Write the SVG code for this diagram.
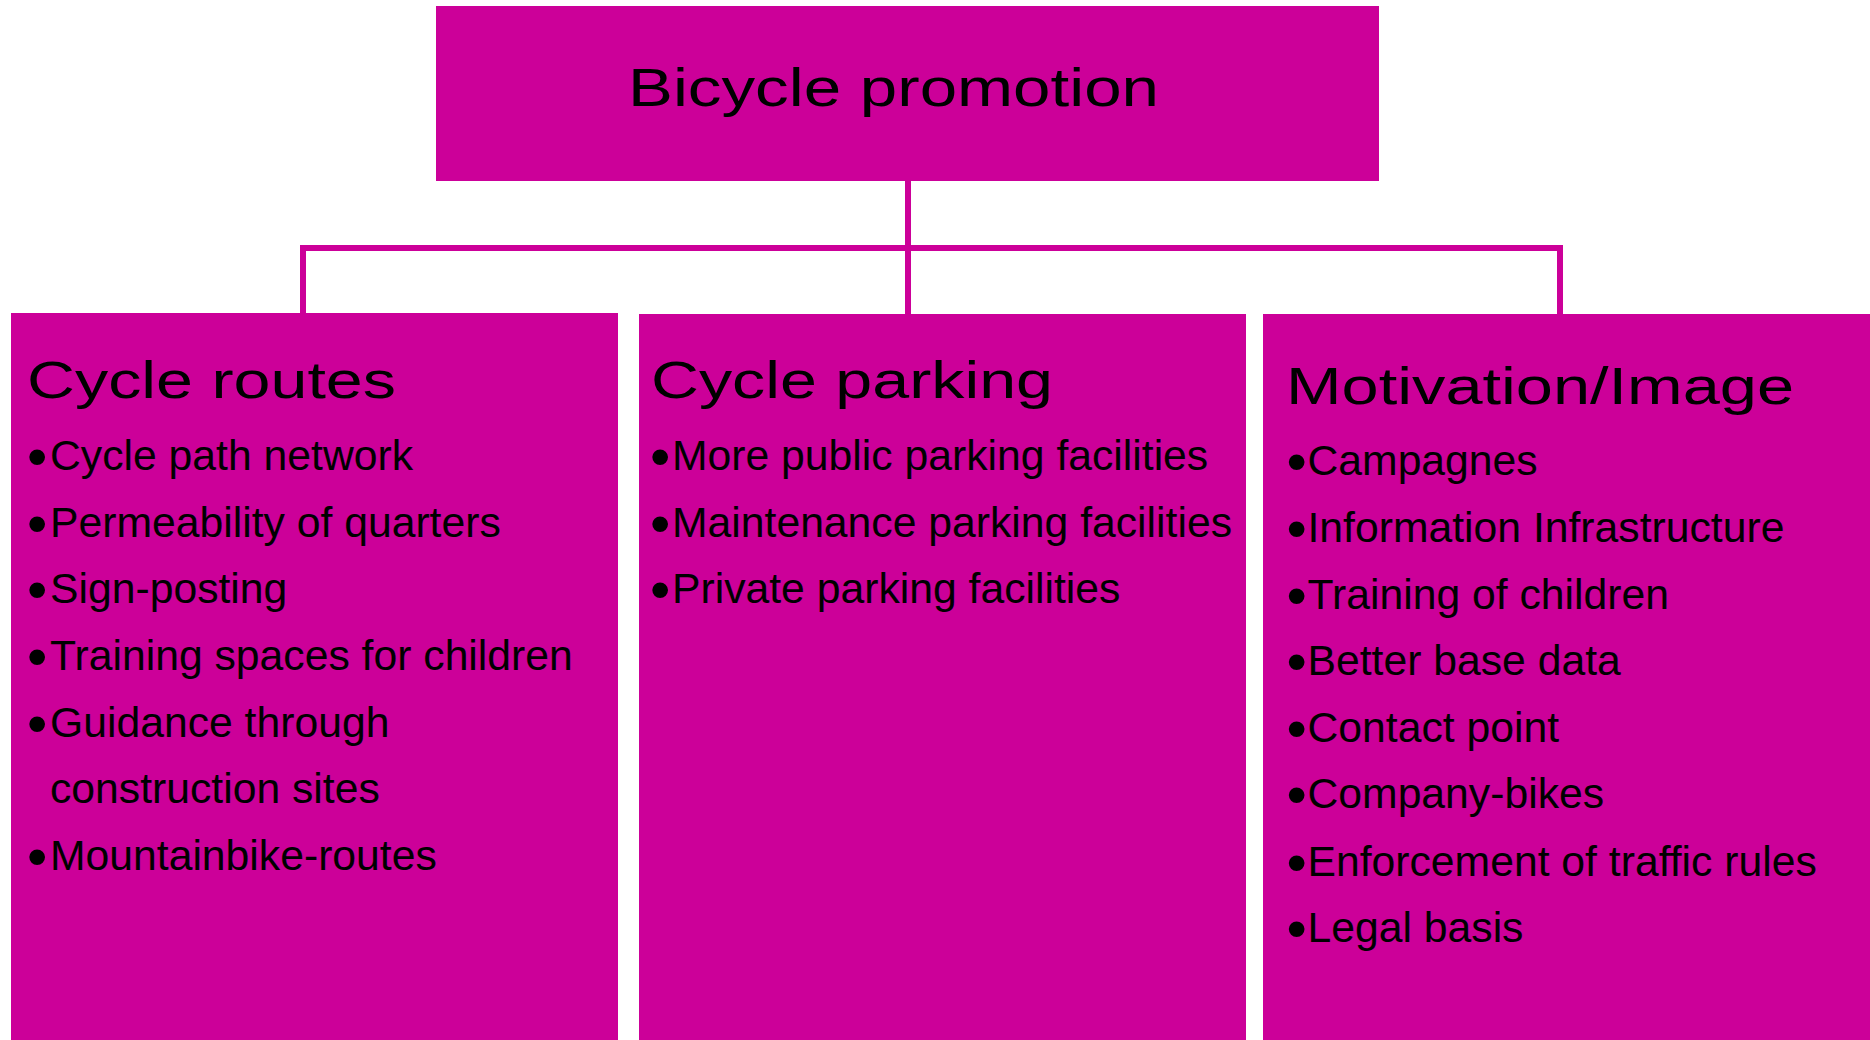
<svg xmlns="http://www.w3.org/2000/svg" width="1870" height="1040" viewBox="0 0 1870 1040">
<style>
.box{fill:#CC0099}
.conn{stroke:#CC0099;stroke-width:6;fill:none}
.title{font-family:"Liberation Sans",Arial,sans-serif;font-size:53px;fill:#000}
.head{font-family:"Liberation Sans",Arial,sans-serif;font-size:52px;fill:#000}
.item{font-family:"Liberation Sans",Arial,sans-serif;font-size:42.7px;fill:#000}
.bul{font-size:58px}
</style>
<rect width="1870" height="1040" fill="#fff"/>
<g id="connectors">
<path class="conn" d="M908,180 V314"/>
<path class="conn" d="M303,313 V248 H1560 V314"/>
</g>
<g id="node-bicycle-promotion">
<rect class="box" x="436" y="6" width="943" height="175"/>
<text class="title" x="628" y="106" textLength="531" lengthAdjust="spacingAndGlyphs">Bicycle promotion</text>
</g>
<g id="node-cycle-routes">
<rect class="box" x="11" y="313" width="607" height="727"/>
<text class="head" x="27" y="398" textLength="369" lengthAdjust="spacingAndGlyphs">Cycle routes</text>
<text class="item" x="27" y="470"><tspan class="bul" dy="6">•</tspan><tspan x="50" dy="-6">Cycle path network</tspan></text>
<text class="item" x="27" y="537"><tspan class="bul" dy="6">•</tspan><tspan x="50" dy="-6">Permeability of quarters</tspan></text>
<text class="item" x="27" y="603"><tspan class="bul" dy="6">•</tspan><tspan x="50" dy="-6">Sign-posting</tspan></text>
<text class="item" x="27" y="670"><tspan class="bul" dy="6">•</tspan><tspan x="50" dy="-6">Training spaces for children</tspan></text>
<text class="item" x="27" y="737"><tspan class="bul" dy="6">•</tspan><tspan x="50" dy="-6">Guidance through</tspan><tspan x="50" y="803">construction sites</tspan></text>
<text class="item" x="27" y="870"><tspan class="bul" dy="6">•</tspan><tspan x="50" dy="-6">Mountainbike-routes</tspan></text>
</g>
<g id="node-cycle-parking">
<rect class="box" x="639" y="314" width="607" height="726"/>
<text class="head" x="651" y="398" textLength="402" lengthAdjust="spacingAndGlyphs">Cycle parking</text>
<text class="item" x="650" y="470"><tspan class="bul" dy="6">•</tspan><tspan x="672" dy="-6">More public parking facilities</tspan></text>
<text class="item" x="650" y="537"><tspan class="bul" dy="6">•</tspan><tspan x="672" dy="-6">Maintenance parking facilities</tspan></text>
<text class="item" x="650" y="603"><tspan class="bul" dy="6">•</tspan><tspan x="672" dy="-6">Private parking facilities</tspan></text>
</g>
<g id="node-motivation-image">
<rect class="box" x="1263" y="314" width="607" height="726"/>
<text class="head" x="1286" y="404" textLength="508" lengthAdjust="spacingAndGlyphs">Motivation/Image</text>
<text class="item" x="1286.5" y="475"><tspan class="bul" dy="6">•</tspan><tspan x="1307.5" dy="-6">Campagnes</tspan></text>
<text class="item" x="1286.5" y="542"><tspan class="bul" dy="6">•</tspan><tspan x="1307.5" dy="-6">Information Infrastructure</tspan></text>
<text class="item" x="1286.5" y="609"><tspan class="bul" dy="6">•</tspan><tspan x="1307.5" dy="-6">Training of children</tspan></text>
<text class="item" x="1286.5" y="675"><tspan class="bul" dy="6">•</tspan><tspan x="1307.5" dy="-6">Better base data</tspan></text>
<text class="item" x="1286.5" y="742"><tspan class="bul" dy="6">•</tspan><tspan x="1307.5" dy="-6">Contact point</tspan></text>
<text class="item" x="1286.5" y="808"><tspan class="bul" dy="6">•</tspan><tspan x="1307.5" dy="-6">Company-bikes</tspan></text>
<text class="item" x="1286.5" y="876"><tspan class="bul" dy="6">•</tspan><tspan x="1307.5" dy="-6">Enforcement of traffic rules</tspan></text>
<text class="item" x="1286.5" y="942"><tspan class="bul" dy="6">•</tspan><tspan x="1307.5" dy="-6">Legal basis</tspan></text>
</g>
</svg>
